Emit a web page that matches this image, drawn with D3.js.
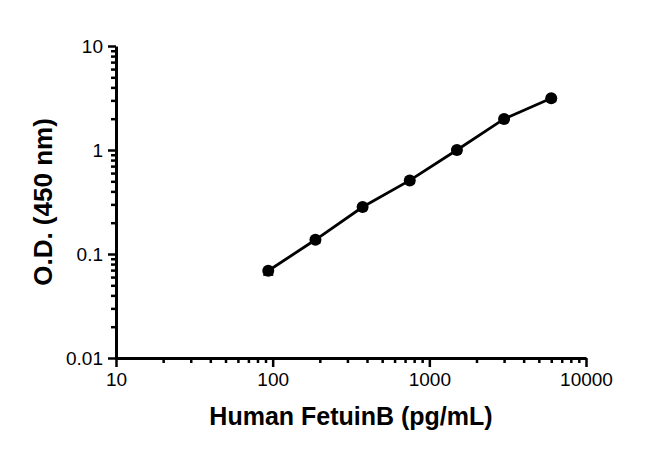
<!DOCTYPE html>
<html>
<head>
<meta charset="utf-8">
<script src="https://cdn.jsdelivr.net/npm/d3@7"></script>
<style>
  body { margin: 0; background: #fff; }
  svg { display: block; font-family: Arial, "Liberation Sans", sans-serif; }
</style>
</head>
<body>
<script>
// standard curve values
const concentrations = [93.75, 187.5, 375, 750, 1500, 3000, 6000]
const odValues = [0.069, 0.137, 0.283, 0.51, 1.0, 1.99, 3.15]
const odErrors = [0.006, 0.009, 0.015, 0.03, 0.06, 0.1, 0.2]
const xTicks = [10, 100, 1000, 10000]
const yTicks = [0.01, 0.1, 1, 10]

const width = 650
const height = 456
const margin = { top: 46, right: 64, bottom: 98, left: 116 }

const svg = d3.select('body').append('svg')
  .attr('width', width)
  .attr('height', height)

const x = d3.scaleLog().domain([10, 10000]).range([margin.left, width - margin.right])
const y = d3.scaleLog().domain([0.01, 10]).range([height - margin.bottom, margin.top])

// minor ticks, 2..9 in every decade
const minorX = d3.range(1, 4).flatMap(p => d3.range(2, 10).map(k => k * Math.pow(10, p)))
const minorY = d3.range(-2, 1).flatMap(p => d3.range(2, 10).map(k => k * Math.pow(10, p)))

const axisStyle = g => {
  g.select('.domain').attr('stroke-width', 3)
  g.selectAll('.tick line').attr('stroke-width', 2.5)
  g.selectAll('.tick text').attr('font-size', 19).attr('fill', '#000')
}

// x axis
svg.append('g')
  .attr('transform', `translate(0,${y(0.01)})`)
  .call(d3.axisBottom(x).tickValues(minorX).tickSize(5).tickSizeOuter(0).tickFormat(''))
  .call(g => g.select('.domain').remove())
  .call(g => g.selectAll('.tick line').attr('stroke-width', 2.5))
svg.append('g')
  .attr('transform', `translate(0,${y(0.01)})`)
  .call(d3.axisBottom(x).tickValues(xTicks).tickSize(9).tickSizeOuter(0).tickPadding(6).tickFormat(d3.format('d')))
  .call(axisStyle)

// y axis
svg.append('g')
  .attr('transform', `translate(${x(10)},0)`)
  .call(d3.axisLeft(y).tickValues(minorY).tickSize(5).tickSizeOuter(0).tickFormat(''))
  .call(g => g.select('.domain').remove())
  .call(g => g.selectAll('.tick line').attr('stroke-width', 2.5))
svg.append('g')
  .attr('transform', `translate(${x(10)},0)`)
  .call(d3.axisLeft(y).tickValues(yTicks).tickSize(8).tickSizeOuter(0).tickPadding(5).tickFormat(d => String(d)))
  .call(axisStyle)

// axis titles
svg.append('text')
  .attr('x', (x(10) + x(10000)) / 2)
  .attr('y', 425)
  .attr('text-anchor', 'middle')
  .attr('font-size', 25)
  .attr('font-weight', 'bold')
  .text('Human FetuinB (pg/mL)')

svg.append('text')
  .attr('transform', `translate(52,${(y(0.01) + y(10)) / 2}) rotate(-90)`)
  .attr('text-anchor', 'middle')
  .attr('font-size', 26)
  .attr('font-weight', 'bold')
  .text('O.D. (450 nm)')

const data = concentrations.map((c, i) => ({ c, od: odValues[i], err: odErrors[i] }))

// fitted curve
svg.append('path')
  .datum(data)
  .attr('fill', 'none')
  .attr('stroke', '#000')
  .attr('stroke-width', 2.8)
  .attr('d', d3.line().x(d => x(d.c)).y(d => y(d.od)))

// error bars
const bars = svg.append('g').attr('stroke', '#000').attr('stroke-width', 2)
bars.selectAll('line.v')
  .data(data)
  .join('line')
  .attr('class', 'v')
  .attr('x1', d => x(d.c)).attr('x2', d => x(d.c))
  .attr('y1', d => y(d.od + d.err)).attr('y2', d => y(d.od - d.err))
bars.selectAll('line.cap')
  .data(data)
  .join('line')
  .attr('class', 'cap')
  .attr('x1', d => x(d.c) - 5).attr('x2', d => x(d.c) + 5)
  .attr('y1', d => y(d.od - d.err)).attr('y2', d => y(d.od - d.err))

// points
svg.append('g')
  .selectAll('circle')
  .data(data)
  .join('circle')
  .attr('cx', d => x(d.c))
  .attr('cy', d => y(d.od))
  .attr('r', 6)
  .attr('fill', '#000')
</script>
</body>
</html>
